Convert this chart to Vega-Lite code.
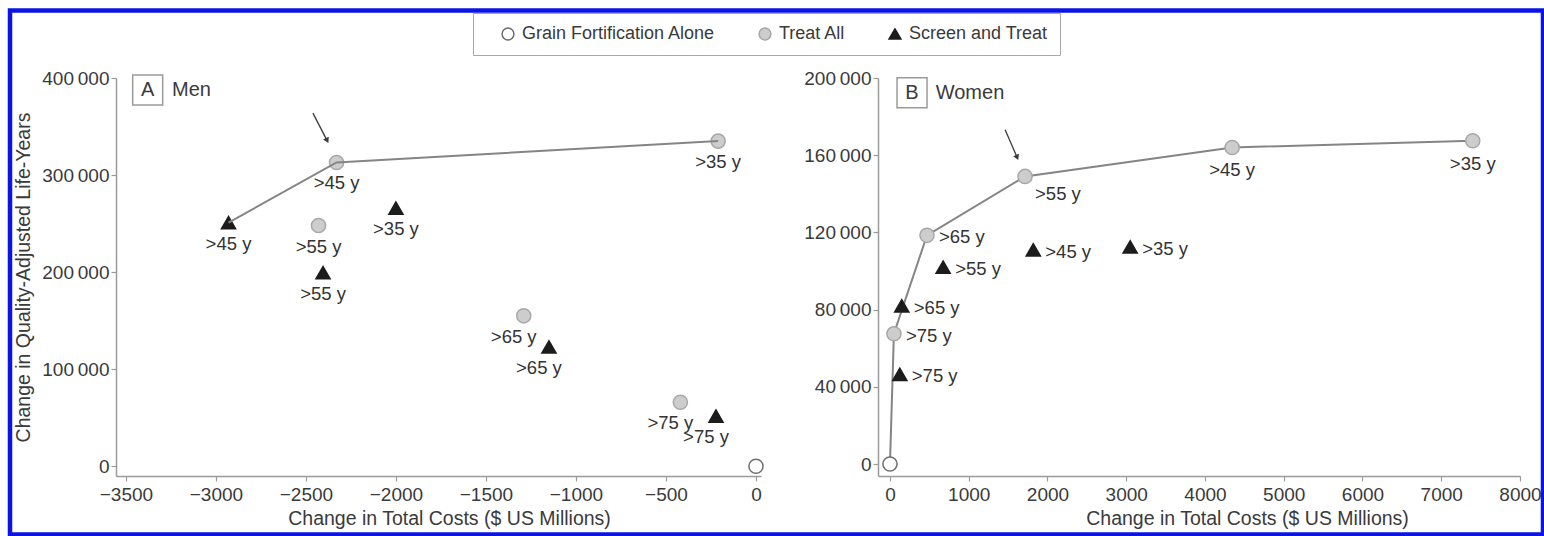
{
  "$schema": "https://vega.github.io/schema/vega-lite/v6.json",
  "background": "white",
  "padding": {"left": 7, "top": 8, "right": 0, "bottom": 0},
  "datasets": {
    "pts": [
      {"panel": "Men", "strategy": "Grain Fortification Alone", "age": "", "cost": 0, "qaly": 0, "frontier": null},
      {"panel": "Men", "strategy": "Treat All", "age": ">35 y", "cost": -210, "qaly": 335000, "frontier": 3},
      {"panel": "Men", "strategy": "Treat All", "age": ">45 y", "cost": -2330, "qaly": 313000, "frontier": 2},
      {"panel": "Men", "strategy": "Treat All", "age": ">55 y", "cost": -2430, "qaly": 248000, "frontier": null},
      {"panel": "Men", "strategy": "Treat All", "age": ">65 y", "cost": -1290, "qaly": 155000, "frontier": null},
      {"panel": "Men", "strategy": "Treat All", "age": ">75 y", "cost": -420, "qaly": 66000, "frontier": null},
      {"panel": "Men", "strategy": "Screen and Treat", "age": ">35 y", "cost": -2000, "qaly": 266000, "frontier": null},
      {"panel": "Men", "strategy": "Screen and Treat", "age": ">45 y", "cost": -2930, "qaly": 251000, "frontier": 1},
      {"panel": "Men", "strategy": "Screen and Treat", "age": ">55 y", "cost": -2405, "qaly": 199500, "frontier": null},
      {"panel": "Men", "strategy": "Screen and Treat", "age": ">65 y", "cost": -1150, "qaly": 123000, "frontier": null},
      {"panel": "Men", "strategy": "Screen and Treat", "age": ">75 y", "cost": -222, "qaly": 51700, "frontier": null},
      {"panel": "Women", "strategy": "Grain Fortification Alone", "age": "", "cost": 0, "qaly": 0, "frontier": 1},
      {"panel": "Women", "strategy": "Treat All", "age": ">75 y", "cost": 50, "qaly": 67500, "frontier": 2},
      {"panel": "Women", "strategy": "Treat All", "age": ">65 y", "cost": 470, "qaly": 118500, "frontier": 3},
      {"panel": "Women", "strategy": "Treat All", "age": ">55 y", "cost": 1715, "qaly": 149000, "frontier": 4},
      {"panel": "Women", "strategy": "Treat All", "age": ">45 y", "cost": 4345, "qaly": 164000, "frontier": 5},
      {"panel": "Women", "strategy": "Treat All", "age": ">35 y", "cost": 7400, "qaly": 167500, "frontier": 6},
      {"panel": "Women", "strategy": "Screen and Treat", "age": ">75 y", "cost": 125, "qaly": 46500, "frontier": null},
      {"panel": "Women", "strategy": "Screen and Treat", "age": ">65 y", "cost": 150, "qaly": 82000, "frontier": null},
      {"panel": "Women", "strategy": "Screen and Treat", "age": ">55 y", "cost": 675, "qaly": 102000, "frontier": null},
      {"panel": "Women", "strategy": "Screen and Treat", "age": ">45 y", "cost": 1820, "qaly": 111000, "frontier": null},
      {"panel": "Women", "strategy": "Screen and Treat", "age": ">35 y", "cost": 3050, "qaly": 112500, "frontier": null}
    ],
    "panelsMen": [{"panel": "Men", "letter": "A", "name": "Men"}],
    "panelsWomen": [{"panel": "Women", "letter": "B", "name": "Women"}],
    "frame": [{"panel": "Men", "v": 0}, {"panel": "Men", "v": 1}]
  },
  "spacing": 36,
  "resolve": {
    "scale": {"shape": "shared", "fill": "shared", "stroke": "shared"},
    "legend": {"shape": "shared", "fill": "shared", "stroke": "shared"}
  },
  "hconcat": [
    {
      "width": 645,
      "height": 398,
      "layer": [
        {
          "data": {"name": "pts"},
          "transform": [{"filter": "datum.panel === 'Men'"}],
          "mark": {"type": "point", "filled": true, "size": 200, "strokeWidth": 1.5, "opacity": 1},
          "encoding": {
            "x": {
              "field": "cost", "type": "quantitative",
              "scale": {"domain": [-3555, 28], "nice": false, "zero": false},
              "axis": {"title": "Change in Total Costs ($ US Millions)", "titleX": 333, "values": [-3500, -3000, -2500, -2000, -1500, -1000, -500, 0], "format": "d", "labelFlush": false}
            },
            "y": {
              "field": "qaly", "type": "quantitative",
              "scale": {"domain": [-10000, 400000], "nice": false, "zero": false},
              "axis": {"title": "Change in Quality-Adjusted Life-Years", "values": [0, 100000, 200000, 300000, 400000], "labelExpr": "replace(format(datum.value, ','), ',', '\u2009')"}
            },
            "shape": {"field": "strategy", "type": "nominal", "scale": {"domain": ["Grain Fortification Alone", "Treat All", "Screen and Treat"], "range": ["circle", "circle", "triangle-up"]}, "legend": {"title": null}},
            "fill": {"field": "strategy", "type": "nominal", "scale": {"domain": ["Grain Fortification Alone", "Treat All", "Screen and Treat"], "range": ["#ffffff", "#cdcdcd", "#1c1c1c"]}, "legend": {"title": null}},
            "stroke": {"field": "strategy", "type": "nominal", "scale": {"domain": ["Grain Fortification Alone", "Treat All", "Screen and Treat"], "range": ["#6e6e6e", "#a8a8a8", "#1c1c1c"]}, "legend": {"title": null}}
          }
        },
        {
          "data": {"name": "frame"},
          "mark": {"type": "point", "size": 0, "opacity": 0},
          "encoding": {
            "x": {"datum": 0},
            "y": {"datum": 0},
            "color": {
              "field": "v", "type": "quantitative",
              "scale": {"range": ["#ffffff", "#ffffff"]},
              "legend": {
                "title": null,
                "orient": "none",
                "legendX": -106,
                "legendY": -67.5,
                "direction": "horizontal",
                "gradientLength": 1533,
                "gradientThickness": 523,
                "gradientOpacity": 0,
                "gradientStrokeWidth": 0,
                "labelExpr": "''",
                "labelFontSize": 1,
                "labelOffset": 0,
                "padding": 0,
                "strokeColor": "#0a14e6",
                "fillColor": "rgba(255,255,255,0)",
                "encode": {"legend": {"update": {"strokeWidth": {"value": 4.5}, "fill": {"value": "rgba(255,255,255,0)"}}}}
              }
            }
          }
        },
        {
          "data": {"name": "pts"},
          "transform": [{"filter": "datum.panel === 'Men' && isValid(datum.frontier)"}],
          "mark": {"type": "line", "color": "#858585", "strokeWidth": 2},
          "encoding": {
            "x": {"field": "cost", "type": "quantitative"},
            "y": {"field": "qaly", "type": "quantitative"},
            "order": {"field": "frontier", "type": "quantitative"}
          }
        },
        {
          "data": {"name": "pts"},
          "transform": [{"filter": "datum.panel === 'Men' && datum.age !== '' && datum.age !== '>65 y' && datum.age !== '>75 y'"}],
          "mark": {"type": "text", "fontSize": 18.5, "color": "#333", "dy": 21, "align": "center", "baseline": "middle"},
          "encoding": {
            "x": {"field": "cost", "type": "quantitative"},
            "y": {"field": "qaly", "type": "quantitative"},
            "text": {"field": "age"}
          }
        },
        {
          "data": {"name": "pts"},
          "transform": [{"filter": "datum.panel === 'Men' && (datum.age === '>65 y' || datum.age === '>75 y')"}],
          "mark": {"type": "text", "fontSize": 18.5, "color": "#333", "dy": 21, "dx": -10, "align": "center", "baseline": "middle"},
          "encoding": {
            "x": {"field": "cost", "type": "quantitative"},
            "y": {"field": "qaly", "type": "quantitative"},
            "text": {"field": "age"}
          }
        },
        {
          "data": {"name": "panelsMen"},
          "mark": {"type": "point", "shape": "square", "size": 900, "filled": false, "stroke": "#9a9a9a", "strokeWidth": 1.5, "opacity": 1},
          "encoding": {"x": {"datum": -3379}, "y": {"datum": 387600}}
        },
        {
          "data": {"name": "panelsMen"},
          "mark": {"type": "text", "fontSize": 20, "color": "#3a3a3a", "align": "center", "baseline": "middle"},
          "encoding": {"x": {"datum": -3379}, "y": {"datum": 387600}, "text": {"field": "letter"}}
        },
        {
          "data": {"name": "panelsMen"},
          "mark": {"type": "text", "fontSize": 20, "color": "#3a3a3a", "align": "left", "baseline": "middle"},
          "encoding": {"x": {"datum": -3244}, "y": {"datum": 387600}, "text": {"field": "name"}}
        },
        {
          "data": {"name": "panelsMen"},
          "mark": {"type": "rule", "color": "#3a3a3a", "strokeWidth": 1.3},
          "encoding": {"x": {"datum": -2461}, "y": {"datum": 363800}, "x2": {"datum": -2385}, "y2": {"datum": 336500}}
        },
        {
          "data": {"name": "panelsMen"},
          "mark": {"type": "point", "shape": "triangle-down", "angle": 333, "size": 40, "filled": true, "color": "#3a3a3a", "opacity": 1},
          "encoding": {"x": {"datum": -2382}, "y": {"datum": 335500}}
        }
      ]
    },
    {
      "width": 642,
      "height": 398,
      "layer": [
        {
          "data": {"name": "pts"},
          "transform": [{"filter": "datum.panel === 'Women' && isValid(datum.frontier)"}],
          "mark": {"type": "line", "color": "#858585", "strokeWidth": 2},
          "encoding": {
            "x": {
              "field": "cost", "type": "quantitative",
              "scale": {"domain": [-152, 8000], "nice": false, "zero": false},
              "axis": {"title": "Change in Total Costs ($ US Millions)", "titleX": 369, "values": [0, 1000, 2000, 3000, 4000, 5000, 6000, 7000, 8000], "format": "d", "labelFlush": false}
            },
            "y": {
              "field": "qaly", "type": "quantitative",
              "scale": {"domain": [-6200, 200000], "nice": false, "zero": false},
              "axis": {"title": null, "values": [0, 20000, 40000, 60000, 80000, 100000, 120000, 140000, 160000, 180000, 200000], "labelExpr": "datum.value % 40000 === 0 ? replace(format(datum.value, ','), ',', '\u2009') : ''"}
            },
            "order": {"field": "frontier", "type": "quantitative"}
          }
        },
        {
          "data": {"name": "pts"},
          "transform": [{"filter": "datum.panel === 'Women'"}],
          "mark": {"type": "point", "filled": true, "size": 200, "strokeWidth": 1.5, "opacity": 1},
          "encoding": {
            "x": {"field": "cost", "type": "quantitative"},
            "y": {"field": "qaly", "type": "quantitative"},
            "shape": {"field": "strategy", "type": "nominal", "scale": {"domain": ["Grain Fortification Alone", "Treat All", "Screen and Treat"], "range": ["circle", "circle", "triangle-up"]}, "legend": {"title": null}},
            "fill": {"field": "strategy", "type": "nominal", "scale": {"domain": ["Grain Fortification Alone", "Treat All", "Screen and Treat"], "range": ["#ffffff", "#cdcdcd", "#1c1c1c"]}, "legend": {"title": null}},
            "stroke": {"field": "strategy", "type": "nominal", "scale": {"domain": ["Grain Fortification Alone", "Treat All", "Screen and Treat"], "range": ["#6e6e6e", "#a8a8a8", "#1c1c1c"]}, "legend": {"title": null}}
          }
        },
        {
          "data": {"name": "pts"},
          "transform": [{"filter": "datum.panel === 'Women' && datum.age !== '' && (datum.strategy === 'Screen and Treat' || datum.age === '>75 y' || datum.age === '>65 y')"}],
          "mark": {"type": "text", "fontSize": 18.5, "color": "#333", "dx": 12, "dy": 2, "align": "left", "baseline": "middle"},
          "encoding": {
            "x": {"field": "cost", "type": "quantitative"},
            "y": {"field": "qaly", "type": "quantitative"},
            "text": {"field": "age"}
          }
        },
        {
          "data": {"name": "pts"},
          "transform": [{"filter": "datum.panel === 'Women' && datum.strategy === 'Treat All' && (datum.age === '>45 y' || datum.age === '>35 y')"}],
          "mark": {"type": "text", "fontSize": 18.5, "color": "#333", "dy": 23, "align": "center", "baseline": "middle"},
          "encoding": {
            "x": {"field": "cost", "type": "quantitative"},
            "y": {"field": "qaly", "type": "quantitative"},
            "text": {"field": "age"}
          }
        },
        {
          "data": {"name": "pts"},
          "transform": [{"filter": "datum.panel === 'Women' && datum.strategy === 'Treat All' && datum.age === '>55 y'"}],
          "mark": {"type": "text", "fontSize": 18.5, "color": "#333", "dx": 10, "dy": 18, "align": "left", "baseline": "middle"},
          "encoding": {
            "x": {"field": "cost", "type": "quantitative"},
            "y": {"field": "qaly", "type": "quantitative"},
            "text": {"field": "age"}
          }
        },
        {
          "data": {"name": "panelsWomen"},
          "mark": {"type": "point", "shape": "square", "size": 900, "filled": false, "stroke": "#9a9a9a", "strokeWidth": 1.5, "opacity": 1},
          "encoding": {"x": {"datum": 280}, "y": {"datum": 192300}}
        },
        {
          "data": {"name": "panelsWomen"},
          "mark": {"type": "text", "fontSize": 20, "color": "#3a3a3a", "align": "center", "baseline": "middle"},
          "encoding": {"x": {"datum": 280}, "y": {"datum": 192300}, "text": {"field": "letter"}}
        },
        {
          "data": {"name": "panelsWomen"},
          "mark": {"type": "text", "fontSize": 20, "color": "#3a3a3a", "align": "left", "baseline": "middle"},
          "encoding": {"x": {"datum": 581}, "y": {"datum": 192300}, "text": {"field": "name"}}
        },
        {
          "data": {"name": "panelsWomen"},
          "mark": {"type": "rule", "color": "#3a3a3a", "strokeWidth": 1.3},
          "encoding": {"x": {"datum": 1462}, "y": {"datum": 173200}, "x2": {"datum": 1610}, "y2": {"datum": 159300}}
        },
        {
          "data": {"name": "panelsWomen"},
          "mark": {"type": "point", "shape": "triangle-down", "angle": 337, "size": 40, "filled": true, "color": "#3a3a3a", "opacity": 1},
          "encoding": {"x": {"datum": 1615}, "y": {"datum": 158800}}
        }
      ]
    }
  ],
  "config": {
    "font": "Liberation Sans",
    "view": {"stroke": null},
    "axis": {
      "grid": false,
      "domainColor": "#9a9a9a",
      "tickColor": "#9a9a9a",
      "domainWidth": 1.5,
      "tickWidth": 1.2,
      "tickSize": 5,
      "labelFontSize": 19,
      "labelColor": "#3a3a3a",
      "labelFont": "Liberation Sans",
      "titleFont": "Liberation Sans",
      "titleFontSize": 19.5,
      "titleFontWeight": "normal",
      "titleColor": "#3a3a3a",
      "labelPadding": 3
    },
    "axisX": {"titlePadding": 5, "labelPadding": 4},
    "axisY": {"titlePadding": 8, "labelPadding": 2},
    "legend": {
      "orient": "none",
      "legendX": 357,
      "legendY": -65,
      "direction": "horizontal",
      "strokeColor": "#a8a8a8",
      "fillColor": "#ffffff",
      "padding": 12,
      "symbolSize": 140,
      "symbolStrokeWidth": 1.5,
      "labelFont": "Liberation Sans",
      "labelFontSize": 18,
      "labelColor": "#3a3a3a",
      "labelOffset": 5,
      "labelLimit": 400,
      "columnPadding": 26,
      "symbolOffset": 14
    }
  }
}
